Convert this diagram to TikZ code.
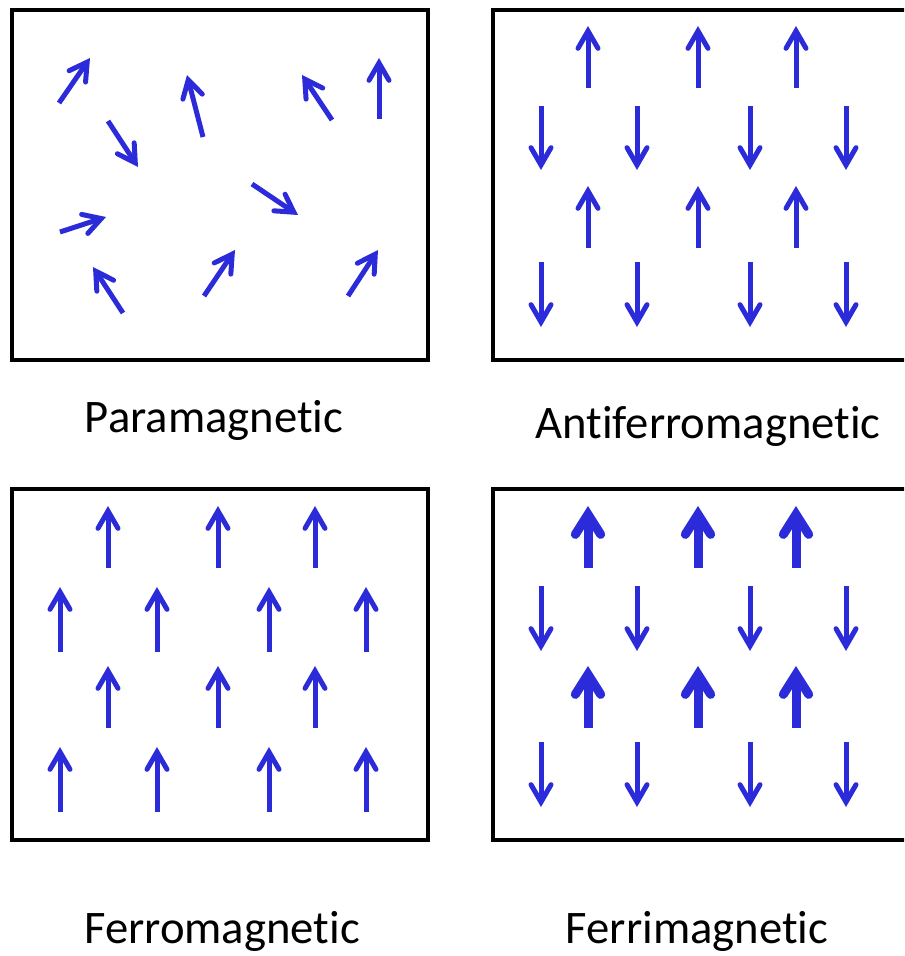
\documentclass[tikz,border=0pt]{standalone}
\usepackage{fontspec}
\setmainfont[Ligatures={NoCommon}]{Carlito}
\usepackage{tikz}
\usetikzlibrary{arrows.meta}
\definecolor{spin}{HTML}{2B2BD9}

\begin{document}
\begin{tikzpicture}[x=0.75pt,y=-0.75pt,
  frame/.style={draw=black,line width=3.3pt},
  spinarrow/.style={draw=spin,line width=3.75pt,-{Straight Barb[length=13pt,width=15pt,line cap=round]}},
  bigspin/.style={draw=spin,line width=6.75pt,-{Straight Barb[length=15pt,width=19pt,line cap=round]}},
  every node/.style={font=\fontsize{35}{42}\selectfont,anchor=base}]
\clip (0,0) rectangle (904,956);
% frames
\draw[frame] (12,10) rectangle (428,360);
\draw[frame] (493,10) rectangle (940,360);
\draw[frame] (12,489) rectangle (428,840);
\draw[frame] (493,489) rectangle (940,840);
% paramagnetic: random spins
\foreach \tx/\ty/\hx/\hy in {59/103/90/58, 108/121/138/167, 203/137/187/75,
    332/120/302/75, 379/119/379/58, 252/184/298/215, 60/232/106/217,
    123/313/93/267, 204/296/235/250, 348/296/378/250}
  \draw[spinarrow] (\tx,\ty) -- (\hx,\hy);
% antiferromagnetic
\foreach \x in {588,698,796} {
  \draw[spinarrow] (\x,88) -- (\x,26);
  \draw[spinarrow] (\x,248) -- (\x,186);
}
\foreach \x in {541,637,750,846} {
  \draw[spinarrow] (\x,106) -- (\x,170);
  \draw[spinarrow] (\x,262) -- (\x,327);
}
% ferromagnetic
\foreach \x in {108,218,315} {
  \draw[spinarrow] (\x,568) -- (\x,506);
  \draw[spinarrow] (\x,728) -- (\x,666);
}
\foreach \x in {60,157,269,366} {
  \draw[spinarrow] (\x,652) -- (\x,587);
  \draw[spinarrow] (\x,812) -- (\x,747);
}
% ferrimagnetic
\foreach \x in {588,698,796} {
  \draw[bigspin] (\x,568) -- (\x,506);
  \draw[bigspin] (\x,728) -- (\x,666);
}
\foreach \x in {541,637,750,846} {
  \draw[spinarrow] (\x,586) -- (\x,651);
  \draw[spinarrow] (\x,742) -- (\x,807);
}
% labels
\node (para) at (214,432) {Paramagnetic};
\node (anti) at (708,438) {Antiferromagnetic};
\node (ferro) at (222,943) {Ferromagnetic};
\node (ferri) at (697,943) {Ferrimagnetic};
\end{tikzpicture}
\end{document}
